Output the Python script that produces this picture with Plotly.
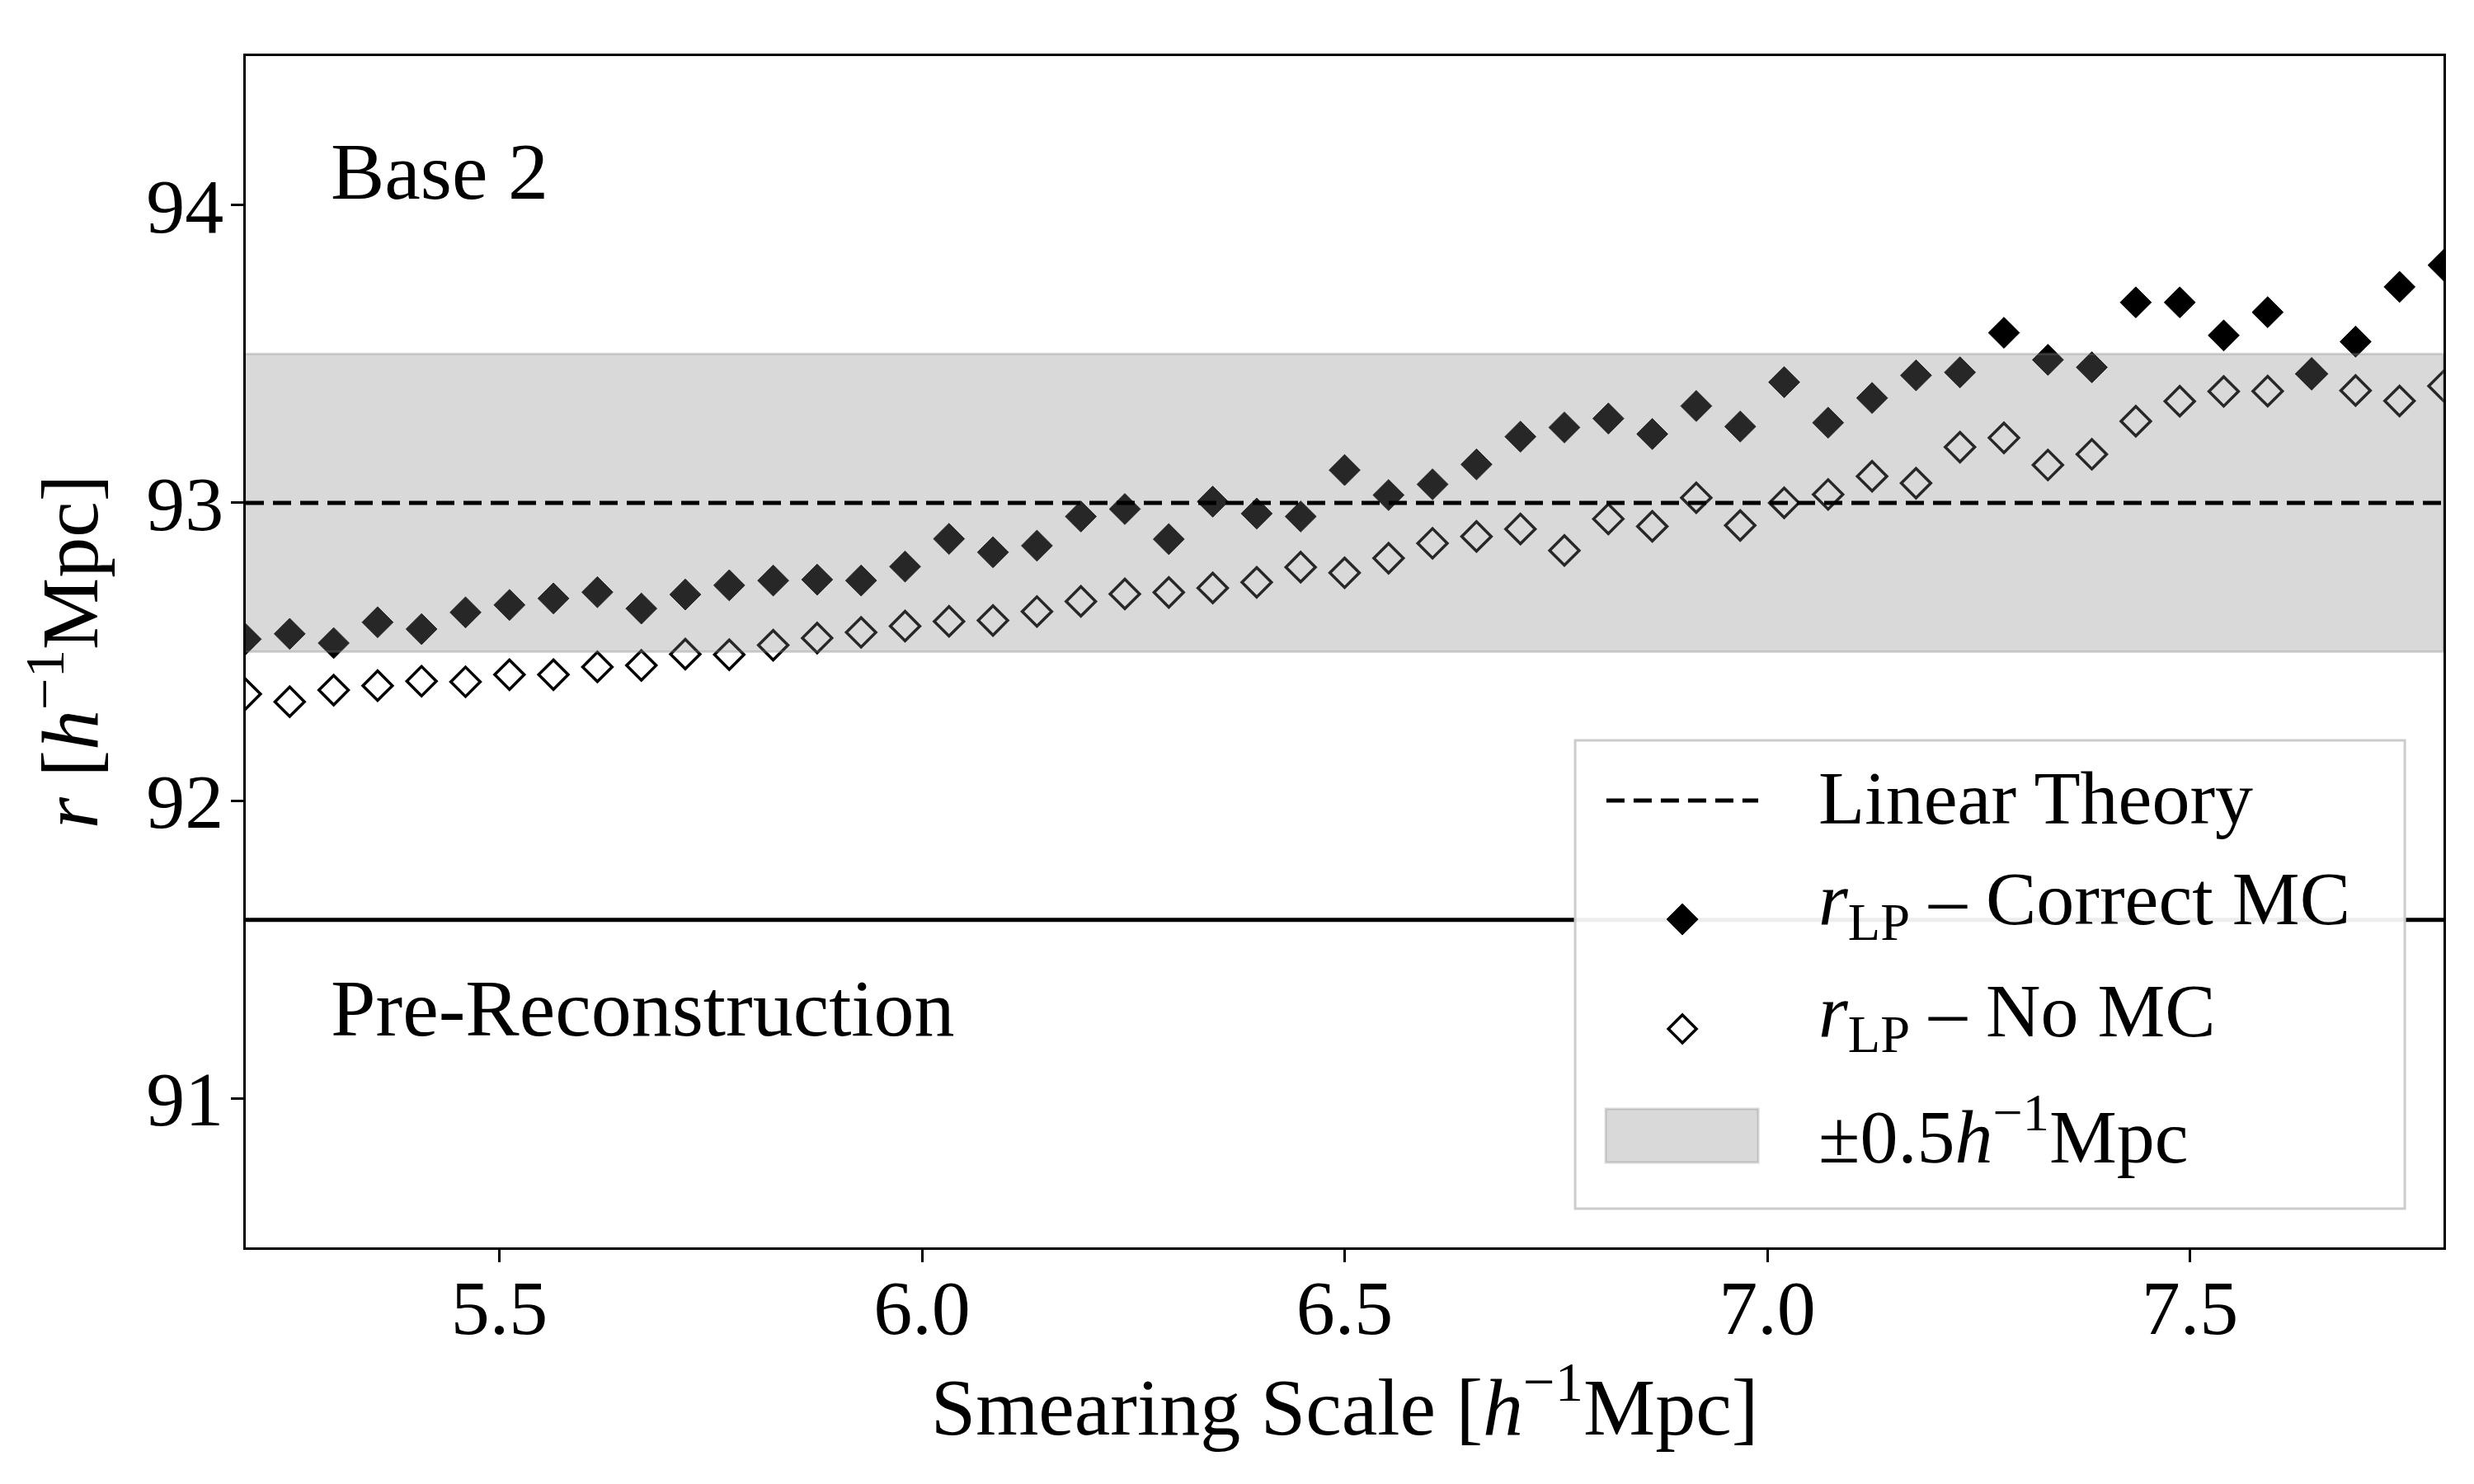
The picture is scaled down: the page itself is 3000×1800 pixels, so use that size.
import plotly.graph_objects as go

# ---- data ----
smearing_scale = [5.200, 5.252, 5.304, 5.356, 5.408, 5.460, 5.512, 5.564, 5.616, 5.668,
                  5.720, 5.772, 5.824, 5.876, 5.928, 5.980, 6.032, 6.084, 6.136, 6.188,
                  6.240, 6.292, 6.344, 6.396, 6.448, 6.500, 6.552, 6.604, 6.656, 6.708,
                  6.760, 6.812, 6.864, 6.916, 6.968, 7.020, 7.072, 7.124, 7.176, 7.228,
                  7.280, 7.332, 7.384, 7.436, 7.488, 7.540, 7.592, 7.644, 7.696, 7.748,
                  7.800]

r_lp_correct_mc = [92.542, 92.560, 92.529, 92.599, 92.576, 92.632, 92.657, 92.679, 92.700, 92.645,
                   92.692, 92.723, 92.739, 92.742, 92.739, 92.786, 92.879, 92.834, 92.856, 92.954,
                   92.979, 92.878, 93.004, 92.964, 92.954, 93.110, 93.026, 93.062, 93.129, 93.222,
                   93.253, 93.283, 93.231, 93.325, 93.256, 93.405, 93.269, 93.352, 93.428, 93.438,
                   93.571, 93.480, 93.455, 93.673, 93.673, 93.562, 93.640, 93.433, 93.541, 93.725,
                   93.798]

r_lp_no_mc = [92.358, 92.332, 92.371, 92.386, 92.401, 92.399, 92.423, 92.423, 92.449, 92.454,
              92.492, 92.490, 92.522, 92.546, 92.565, 92.586, 92.602, 92.605, 92.635, 92.669,
              92.694, 92.699, 92.714, 92.733, 92.784, 92.765, 92.814, 92.864, 92.887, 92.912,
              92.840, 92.946, 92.921, 93.017, 92.924, 93.000, 93.028, 93.089, 93.066, 93.187,
              93.218, 93.127, 93.163, 93.274, 93.341, 93.374, 93.375, 93.433, 93.377, 93.342,
              93.392]

linear_theory = 93.0
band_halfwidth = 0.5
pre_reconstruction = 91.6

x_ticks = [5.5, 6.0, 6.5, 7.0, 7.5]
y_ticks = [91, 92, 93, 94]

legend_labels = ["Linear Theory",
                 "<i>r</i><sub>LP</sub> – Correct MC",
                 "<i>r</i><sub>LP</sub> – No MC",
                 "±0.5<i>h</i><sup>−1</sup>Mpc"]

FONT = "Liberation Serif"
FS = 94
LFS = 92
BAND_FILL = "rgba(128,128,128,0.3)"

n = len(smearing_scale)
fig = go.Figure()

# open diamonds (drawn first so filled ones sit on top)
fig.add_trace(go.Scatter(
    x=smearing_scale, y=r_lp_no_mc, mode="markers", name=legend_labels[2],
    marker=dict(symbol="diamond", size=27.5, color="white",
                line=dict(color="black", width=3.5)),
    showlegend=False))

# filled diamonds
fig.add_trace(go.Scatter(
    x=smearing_scale, y=r_lp_correct_mc, mode="markers", name=legend_labels[1],
    marker=dict(symbol="diamond", size=29, color="black",
                line=dict(color="black", width=1)),
    showlegend=False))

# pre-reconstruction line
fig.add_trace(go.Scatter(
    x=[smearing_scale[0], smearing_scale[-1]], y=[pre_reconstruction] * 2,
    mode="lines", line=dict(color="black", width=5), showlegend=False))

# +-0.5 band (drawn above markers, translucent)
band_x = smearing_scale + smearing_scale[::-1]
band_y = [linear_theory + band_halfwidth] * n + [linear_theory - band_halfwidth] * n
fig.add_trace(go.Scatter(
    x=band_x, y=band_y, mode="lines", fill="toself", fillcolor=BAND_FILL,
    line=dict(color=BAND_FILL, width=3), name=legend_labels[3], showlegend=False))

# linear theory dashed line
fig.add_trace(go.Scatter(
    x=[smearing_scale[0], smearing_scale[-1]], y=[linear_theory] * 2,
    mode="lines", line=dict(color="black", width=5, dash="22px,11px"),
    name=legend_labels[0], showlegend=False))

# in-plot labels (baseline-aligned)
fig.add_annotation(x=5.3, y=93.963, xref="x", yref="y", text="Base 2",
                   showarrow=False, xanchor="left", yanchor="bottom",
                   borderpad=0, borderwidth=0,
                   font=dict(family=FONT, size=98, color="black"))
fig.add_annotation(x=5.3, y=91.152, xref="x", yref="y", text="Pre-Reconstruction",
                   showarrow=False, xanchor="left", yanchor="bottom",
                   borderpad=0, borderwidth=0,
                   font=dict(family=FONT, size=98, color="black"))

# ---- legend box (matplotlib-style) ----
fig.add_shape(type="rect", xref="paper", yref="paper",
              x0=0.6049, x1=0.9824, y0=0.0325, y1=0.4256,
              fillcolor="rgba(255,255,255,0.93)", line=dict(color="#CCCCCC", width=3),
              layer="above")
fig.add_shape(type="line", xref="paper", yref="paper",
              x0=0.6191, x1=0.6882, y0=0.3751, y1=0.3751,
              line=dict(color="black", width=5, dash="22px,11px"), layer="above")
fig.add_shape(type="path", xref="paper", yref="paper",
              xsizemode="pixel", ysizemode="pixel", xanchor=0.6537, yanchor=0.2754,
              path="M0,19 L19,0 L0,-19 L-19,0 Z",
              fillcolor="black", line=dict(color="black", width=1), layer="above")
fig.add_shape(type="path", xref="paper", yref="paper",
              xsizemode="pixel", ysizemode="pixel", xanchor=0.6537, yanchor=0.1834,
              path="M0,17 L17,0 L0,-17 L-17,0 Z",
              fillcolor="white", line=dict(color="black", width=3.5), layer="above")
fig.add_shape(type="rect", xref="paper", yref="paper",
              x0=0.6188, x1=0.6882, y0=0.0713, y1=0.1163,
              fillcolor=BAND_FILL, line=dict(color=BAND_FILL, width=3), layer="above")

legend_text_y = [0.3417, 0.3280, 0.2339, 0.0574]
legend_text_anchor = ["bottom", "top", "top", "bottom"]
for lab, yy, anc in zip(legend_labels, legend_text_y, legend_text_anchor):
    fig.add_annotation(x=0.7156, y=yy, xref="paper", yref="paper", text=lab,
                       showarrow=False, xanchor="left", yanchor=anc,
                       borderpad=0, borderwidth=0,
                       font=dict(family=FONT, size=LFS, color="black"))

axis_common = dict(showline=True, mirror=True, linecolor="black", linewidth=3,
                   ticks="outside", ticklen=15, tickwidth=3, tickcolor="black",
                   showgrid=False, zeroline=False,
                   tickfont=dict(family=FONT, size=FS, color="black"))

fig.update_xaxes(range=[5.2, 7.8], tickvals=x_ticks,
                 ticktext=[f"{v:.1f}" for v in x_ticks],
                 title=dict(text="Smearing Scale [<i>h</i><sup>−1</sup>Mpc]",
                            font=dict(family=FONT, size=98, color="black"), standoff=32),
                 ticklabelstandoff=-26, **axis_common)
fig.update_yaxes(range=[90.5, 94.5], tickvals=y_ticks,
                 ticktext=[str(v) for v in y_ticks],
                 title=dict(text="<i>r</i> [<i>h</i><sup>−1</sup>Mpc]",
                            font=dict(family=FONT, size=98, color="black"), standoff=26),
                 ticklabelstandoff=-10, **axis_common)

fig.update_layout(
    width=3000, height=1800,
    margin=dict(l=290, r=45, t=60, b=295),
    plot_bgcolor="white", paper_bgcolor="white",
    font=dict(family=FONT, size=FS, color="black"),
    showlegend=False,
)

fig.write_html("out.html")
